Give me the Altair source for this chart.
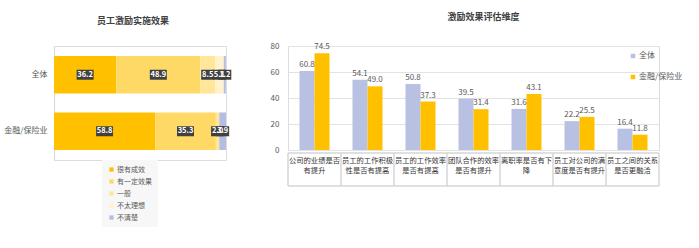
import altair as alt
import pandas as pd

FONT = "Noto Sans CJK SC"

# ---- left chart data ----
groups = ["全体", "金融/保险业"]
levels = ["很有成效", "有一定效果", "一般", "不太理想", "不清楚"]
level_colors = ["#FFC000", "#FFD966", "#FFE699", "#FFF2CC", "#B4BEE0"]
vals_all = [36.2, 48.9, 8.5, 5.1, 1.2]
vals_fin = [58.8, 35.3, 2.0, 0.0, 3.9]

# ---- right chart data ----
dims = ["公司的业绩是否\n有提升", "员工的工作积极\n性是否有提高", "员工的工作效率\n是否有提高",
        "团队合作的效率\n是否有提升", "离职率是否有下\n降", "员工对公司的满\n意度是否有提升",
        "员工之间的关系\n是否更融洽"]
series = ["全体", "金融/保险业"]
series_colors = ["#B8C1E1", "#FFC000"]
s_all = [60.8, 54.1, 50.8, 39.5, 31.6, 22.2, 16.4]
s_fin = [74.5, 49.0, 37.3, 31.4, 43.1, 25.5, 11.8]
y_ticks = [0, 20, 40, 60, 80]

# ---- left table ----
rows = []
for g, vals in zip(groups, [vals_all, vals_fin]):
    cum = 0.0
    for i, (lv, v) in enumerate(zip(levels, vals)):
        rows.append({"group": g, "level": lv, "idx": i, "value": v,
                     "mid": cum + v / 2, "label": f"{v:.1f}",
                     "wide": len(f"{v:.1f}") > 3, "show": v > 0})
        cum += v
left_df = pd.DataFrame(rows)

LW, LH = 172, 114
yscale = alt.Scale(domain=groups, paddingInner=0.333, paddingOuter=0.175)
xscale_l = alt.Scale(domain=[0, 100])

bars_l = alt.Chart(left_df).mark_bar().encode(
    y=alt.Y("group:N", scale=yscale, sort=groups,
            axis=alt.Axis(title=None, ticks=False, domainColor="#d9d9d9", domainWidth=1.2,
                          labelFontSize=8, labelColor="#595959", labelPadding=7, labelFont=FONT)),
    x=alt.X("value:Q", stack="zero", scale=xscale_l, axis=None),
    color=alt.Color("level:N", scale=alt.Scale(domain=levels, range=level_colors),
                    legend=alt.Legend(title=None, orient="none", legendX=48, legendY=114,
                                      direction="vertical", symbolType="square", symbolSize=18,
                                      labelFontSize=7, labelColor="#595959", labelFont=FONT,
                                      fillColor="#f7f7f7", padding=6, rowPadding=4,
                                      symbolStrokeWidth=0, labelOffset=2)),
    order=alt.Order("idx:Q"),
)

lab_src = alt.Chart(left_df).transform_filter("datum.show")
box_w = lab_src.transform_filter("datum.wide").mark_rect(width=17, height=10, color="#404040").encode(
    x=alt.X("mid:Q", scale=xscale_l), y=alt.Y("group:N", scale=yscale, sort=groups))
box_n = lab_src.transform_filter("!datum.wide").mark_rect(width=13, height=10, color="#404040").encode(
    x=alt.X("mid:Q", scale=xscale_l), y=alt.Y("group:N", scale=yscale, sort=groups))
txt_l = lab_src.mark_text(color="white", fontSize=7.5, fontWeight="bold", font=FONT).encode(
    x=alt.X("mid:Q", scale=xscale_l), y=alt.Y("group:N", scale=yscale, sort=groups),
    text="label:N")

left = alt.layer(bars_l, box_w, box_n, txt_l).properties(
    width=LW, height=LH,
    title=alt.TitleParams("员工激励实施效果", fontSize=9, fontWeight="bold", color="#404040",
                          font=FONT, offset=20, dx=-7),
)

# ---- right table ----
rrows = []
for s, vals in zip(series, [s_all, s_fin]):
    for d, v in zip(dims, vals):
        rrows.append({"dim": d, "series": s, "value": v, "label": f"{v:.1f}"})
right_df = pd.DataFrame(rrows)
dim_df = pd.DataFrame({"dim": dims})

RW, RH = 371, 104
xscale_r = alt.Scale(domain=dims, paddingInner=0, paddingOuter=0)
xoff = alt.XOffset("series:N", sort=series,
                   scale=alt.Scale(domain=series, paddingInner=0, paddingOuter=0.767))
yscale_r = alt.Scale(domain=[0, 80], nice=False)
yaxis_r = alt.Axis(title=None, values=y_ticks, tickCount=5, domain=False, ticks=False,
                   gridColor="#e3e3e3", gridWidth=1.2, labelFontSize=8, labelColor="#595959",
                   labelPadding=9, labelFont=FONT, labelOverlap=False)

bars_r = alt.Chart(right_df).mark_bar().encode(
    x=alt.X("dim:N", sort=dims, scale=xscale_r, axis=None),
    xOffset=xoff,
    y=alt.Y("value:Q", scale=yscale_r, axis=yaxis_r),
    color=alt.Color("series:N", scale=alt.Scale(domain=series, range=series_colors),
                    legend=alt.Legend(title=None, orient="none", legendX=341, legendY=6,
                                      direction="vertical", symbolType="square", symbolSize=20,
                                      labelFontSize=8, labelColor="#595959", labelFont=FONT,
                                      rowPadding=13, symbolStrokeWidth=0, labelOffset=2)),
)
txt_r = alt.Chart(right_df).mark_text(dy=-2, baseline="bottom", fontSize=8, color="#595959",
                                      font=FONT).encode(
    x=alt.X("dim:N", sort=dims, scale=xscale_r),
    xOffset=xoff,
    y=alt.Y("value:Q", scale=yscale_r, axis=yaxis_r),
    text="label:N",
)
cell_txt = alt.Chart(dim_df).mark_text(baseline="top", fontSize=7.3, color="#333333",
                                       lineBreak="\n", lineHeight=9.5, font=FONT).encode(
    x=alt.X("dim:N", sort=dims, scale=xscale_r),
    y=alt.value(RH + 7),
    text="dim:N",
)
vlines = alt.Chart(dim_df).mark_rule(color="#d6d6d6", strokeWidth=1.5).encode(
    x=alt.X("dim:N", sort=dims, scale=xscale_r, bandPosition=0),
    y=alt.value(RH + 3), y2=alt.value(RH + 36),
)
one = pd.DataFrame({"k": [0]})
vlast = alt.Chart(one).mark_rule(color="#d6d6d6", strokeWidth=1.5).encode(
    x=alt.value(RW), y=alt.value(RH + 3), y2=alt.value(RH + 36),
)
htop = alt.Chart(one).mark_rule(color="#d6d6d6", strokeWidth=1.5).encode(
    x=alt.value(0), x2=alt.value(RW), y=alt.value(RH + 3),
)
hbot = alt.Chart(one).mark_rule(color="#d6d6d6", strokeWidth=1.5).encode(
    x=alt.value(0), x2=alt.value(RW), y=alt.value(RH + 36),
)

right = alt.layer(bars_r, txt_r, cell_txt, vlines, vlast, htop, hbot).properties(
    width=RW, height=RH,
    title=alt.TitleParams("激励效果评估维度", fontSize=9, fontWeight="bold", color="#404040",
                          font=FONT, offset=20, dx=10),
)

chart = alt.hconcat(left, right, spacing=62, bounds="flush").resolve_scale(
    color="independent", x="independent", y="independent", xOffset="independent"
).properties(
    padding={"left": 3, "top": 12, "right": 5, "bottom": 5},
).configure_view(stroke=None).configure(font=FONT)

chart.save("out.html", embed_options={"renderer": "svg", "actions": False})
